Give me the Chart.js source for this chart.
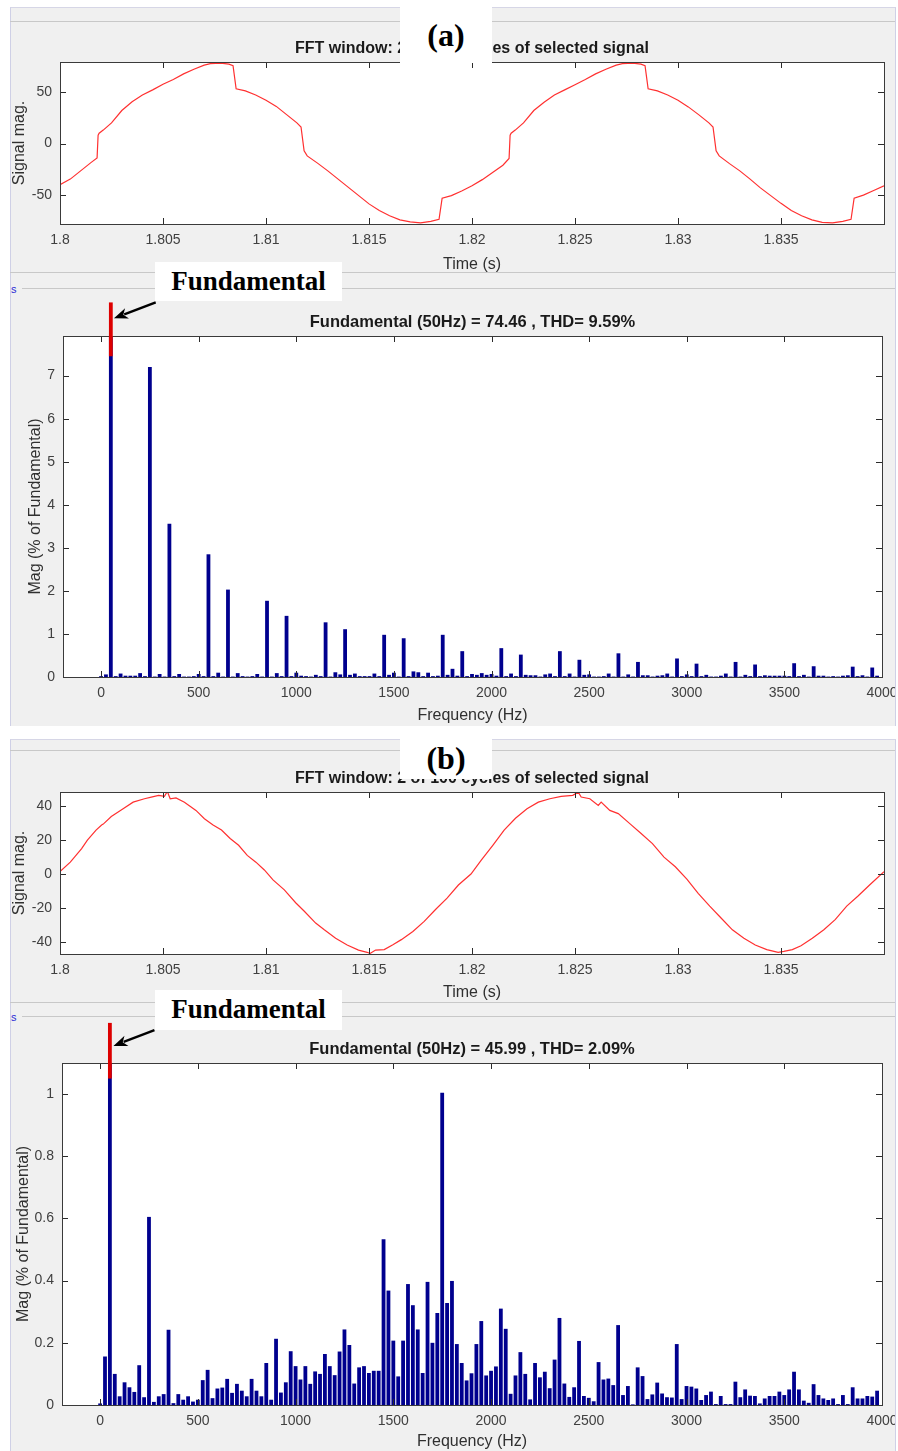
<!DOCTYPE html>
<html>
<head>
<meta charset="utf-8">
<script src="https://cdn.jsdelivr.net/npm/chart.js@4.4.1/dist/chart.umd.min.js"></script>
<style>
  body { margin: 0; background: #fff; }
  #page { position: relative; width: 898px; height: 1451px; overflow: hidden; }
  .panel { position: absolute; left: 10px; width: 884px; background: #f0f0f0;
           border-left: 1px solid #cfd0e6; border-right: 1px solid #cfd0e6; border-top: 1px solid #d6d6e6; }
  .hline { position: absolute; height: 1px; background: #c8c8c8; }
  canvas { position: absolute; }
  .tag { position: absolute; background: #fff; color: #000; text-align: center;
         font-family: 'Liberation Serif', 'Times New Roman', serif; font-weight: bold; z-index: 5; }
  .blue-s { position: absolute; left: 11px; font: 11px 'Liberation Sans', Arial, sans-serif; color: #2b2bd6; }
</style>
</head>
<body>
<div id="page">
  <div class="panel" style="top:7px;height:718px"></div>
  <div class="hline" style="left:10px;width:885px;top:21px"></div>
  <div class="hline" style="left:10px;width:885px;top:272px"></div>
  <div class="hline" style="left:22px;width:873px;top:288px"></div>

  <div class="panel" style="top:739px;height:712px"></div>
  <div class="hline" style="left:10px;width:885px;top:750px"></div>
  <div class="hline" style="left:10px;width:885px;top:1002px"></div>
  <div class="hline" style="left:22px;width:873px;top:1016px"></div>

  <span class="blue-s" style="top:283px">s</span>
  <span class="blue-s" style="top:1011px">s</span>

  <canvas id="timeA" width="885" height="237" style="left:10px;top:37px"></canvas>
  <canvas id="fftA" width="885" height="437" style="left:10px;top:288px"></canvas>
  <canvas id="timeB" width="885" height="242" style="left:10px;top:760px"></canvas>
  <canvas id="fftB" width="885" height="435" style="left:10px;top:1016px"></canvas>

  <div class="tag" style="left:400px;top:7px;width:92px;height:56px;line-height:56px;font-size:32px">(a)</div>
  <div class="tag" style="left:400px;top:738px;width:92px;height:41px;line-height:41px;font-size:32px">(b)</div>
  <div class="tag" style="left:155px;top:262px;width:187px;height:39px;line-height:39px;font-size:27px">Fundamental</div>
  <div class="tag" style="left:155px;top:990px;width:187px;height:40px;line-height:38px;font-size:27px">Fundamental</div>
</div>

<script>
// ---- time signal (a) ----
const timeA = [1.8, 1.8005, 1.801, 1.8015, 1.8018, 1.80185, 1.8019, 1.8021, 1.8025, 1.803, 1.8035, 1.804, 1.8045, 1.805, 1.8055, 1.806, 1.8065, 1.807, 1.8073, 1.8078, 1.8082, 1.8084, 1.80855, 1.809, 1.8095, 1.81, 1.8105, 1.811, 1.8115, 1.8117, 1.81185, 1.812, 1.8125, 1.813, 1.8135, 1.814, 1.8145, 1.815, 1.8155, 1.816, 1.8165, 1.817, 1.8175, 1.818, 1.8184, 1.81855, 1.819, 1.8195, 1.82, 1.8205, 1.821, 1.8215, 1.8218, 1.82185, 1.8219, 1.8221, 1.8225, 1.823, 1.8235, 1.824, 1.8245, 1.825, 1.8255, 1.826, 1.8265, 1.827, 1.8273, 1.8278, 1.8282, 1.8284, 1.82855, 1.829, 1.8295, 1.83, 1.8305, 1.831, 1.8315, 1.8317, 1.83185, 1.832, 1.8325, 1.833, 1.8335, 1.834, 1.8345, 1.835, 1.8355, 1.836, 1.8365, 1.837, 1.8375, 1.838, 1.8384, 1.83855, 1.839, 1.8395, 1.84];
const sigA = [-40, -34.5, -26.5, -18.5, -14, 8, 10, 13, 20, 32, 40.5, 47, 52, 57.5, 62, 67.5, 72, 76, 77.5, 78, 77, 75.5, 53, 51, 47, 42, 36, 28, 20, 16, -7, -12, -19, -26.5, -34.5, -42.5, -50.5, -58.5, -65, -70, -74, -76, -77, -75.5, -73.5, -53, -50.5, -46, -41, -35, -28, -21, -14.5, 8, 10, 13, 20, 32, 40, 47, 52, 57, 62, 67.5, 72, 76, 77.5, 78, 77, 75.5, 53, 51, 47, 42, 35.5, 28, 20, 16, -7, -12, -19.5, -26.5, -34.5, -43, -50.5, -58, -65, -70, -74, -76.5, -77, -75.5, -73.5, -53, -50, -45.5, -41];

// ---- time signal (b) ----
const timeB = [1.8, 1.8005, 1.80105, 1.80133, 1.80175, 1.80202, 1.8021, 1.80249, 1.80299, 1.80355, 1.8041, 1.80443, 1.80479, 1.80507, 1.80521, 1.80535, 1.80563, 1.80604, 1.8066, 1.80701, 1.80743, 1.80784, 1.80826, 1.80867, 1.80909, 1.80951, 1.80992, 1.81034, 1.81089, 1.81144, 1.81186, 1.81241, 1.81283, 1.81338, 1.81394, 1.81449, 1.81491, 1.81505, 1.81532, 1.81574, 1.81616, 1.81657, 1.81713, 1.81768, 1.81823, 1.81879, 1.81934, 1.81995, 1.82045, 1.82101, 1.82156, 1.82211, 1.82267, 1.82322, 1.82378, 1.82433, 1.82489, 1.82516, 1.8253, 1.82572, 1.82613, 1.82627, 1.82669, 1.8271, 1.82766, 1.82821, 1.82876, 1.82932, 1.82987, 1.83043, 1.83098, 1.83154, 1.83209, 1.83264, 1.8332, 1.83375, 1.83431, 1.83486, 1.83514, 1.83555, 1.83597, 1.83652, 1.83708, 1.83763, 1.83819, 1.83874, 1.8393, 1.84];
const sigB = [1.4, 7, 15, 20, 26, 29, 29.5, 34, 38, 42.5, 44.5, 45.5, 46.5, 46, 48.8, 44.5, 45, 42.5, 37.6, 32.7, 29, 26, 21, 17, 11, 7, 2.4, -3.5, -9.4, -17, -22, -29, -33, -38, -42, -45, -46.3, -47, -45, -44.7, -41.8, -38.8, -34, -28, -21, -14.3, -6.5, 0, 8.2, 17, 26, 33, 38.6, 42.5, 44.5, 45.9, 46.5, 48.4, 45.5, 44.5, 40.6, 42.5, 37.6, 35.7, 29.8, 24, 18, 10, 4.3, -3, -11.4, -19, -26, -33, -38, -42, -44.7, -46.3, -45.7, -44.7, -42.4, -38, -33, -27, -19, -13, -6.5, 1.4];

// ---- spectrum bins (Hz) ----
const freqBins = [
  0, 25, 50, 75, 100, 125, 150, 175, 200, 225, 250, 275, 300, 325, 350, 375, 400, 425, 450, 475,
  500, 525, 550, 575, 600, 625, 650, 675, 700, 725, 750, 775, 800, 825, 850, 875, 900, 925, 950, 975,
  1000, 1025, 1050, 1075, 1100, 1125, 1150, 1175, 1200, 1225, 1250, 1275, 1300, 1325, 1350, 1375, 1400, 1425, 1450, 1475,
  1500, 1525, 1550, 1575, 1600, 1625, 1650, 1675, 1700, 1725, 1750, 1775, 1800, 1825, 1850, 1875, 1900, 1925, 1950, 1975,
  2000, 2025, 2050, 2075, 2100, 2125, 2150, 2175, 2200, 2225, 2250, 2275, 2300, 2325, 2350, 2375, 2400, 2425, 2450, 2475,
  2500, 2525, 2550, 2575, 2600, 2625, 2650, 2675, 2700, 2725, 2750, 2775, 2800, 2825, 2850, 2875, 2900, 2925, 2950, 2975,
  3000, 3025, 3050, 3075, 3100, 3125, 3150, 3175, 3200, 3225, 3250, 3275, 3300, 3325, 3350, 3375, 3400, 3425, 3450, 3475,
  3500, 3525, 3550, 3575, 3600, 3625, 3650, 3675, 3700, 3725, 3750, 3775, 3800, 3825, 3850, 3875, 3900, 3925, 3950, 3975
];

// magnitude, % of fundamental (fundamental bin = 100, clipped by the axis)
const magA = [
  0.02, 0.06, 100, 0.02, 0.08, 0.03, 0.03, 0.03, 0.09, 0.02, 7.2, 0.01, 0.07, 0.01, 3.56, 0.02, 0.07, 0.01, 0.01, 0.02,
  0.07, 0.02, 2.85, 0.02, 0.10, 0.01, 2.03, 0.01, 0.09, 0.02, 0.01, 0.02, 0.07, 0.01, 1.77, 0.01, 0.09, 0.02, 1.42, 0.02,
  0.10, 0.03, 0.02, 0.01, 0.05, 0.02, 1.27, 0.01, 0.11, 0.06, 1.11, 0.05, 0.08, 0.02, 0.02, 0.02, 0.08, 0.02, 0.98, 0.05,
  0.10, 0.01, 0.90, 0.02, 0.13, 0.11, 0.02, 0.10, 0.02, 0.03, 0.98, 0.05, 0.19, 0.03, 0.60, 0.02, 0.07, 0.05, 0.09, 0.05,
  0.07, 0.03, 0.67, 0.02, 0.08, 0.02, 0.52, 0.05, 0.04, 0.04, 0.01, 0.06, 0.08, 0.02, 0.60, 0.02, 0.08, 0.01, 0.40, 0.05,
  0.06, 0.01, 0.01, 0.02, 0.08, 0.01, 0.55, 0.01, 0.06, 0.01, 0.35, 0.04, 0.04, 0.01, 0.03, 0.04, 0.08, 0.01, 0.43, 0.02,
  0.06, 0.02, 0.31, 0.02, 0.05, 0.01, 0.01, 0.03, 0.08, 0.01, 0.35, 0.01, 0.05, 0.02, 0.29, 0.02, 0.04, 0.03, 0.03, 0.03,
  0.03, 0.02, 0.32, 0.02, 0.05, 0.01, 0.25, 0.03, 0.03, 0.01, 0.02, 0.01, 0.03, 0.04, 0.24, 0.02, 0.04, 0.01, 0.22, 0.03
];
const magB = [
  0.005, 0.156, 100, 0.10, 0.028, 0.073, 0.057, 0.042, 0.128, 0.025, 0.605, 0.01, 0.028, 0.035, 0.242, 0.006, 0.035, 0.017, 0.028, 0.011,
  0.017, 0.08, 0.113, 0.022, 0.053, 0.056, 0.084, 0.039, 0.068, 0.046, 0.028, 0.084, 0.046, 0.028, 0.135, 0.017, 0.213, 0.04, 0.073, 0.173,
  0.125, 0.082, 0.125, 0.068, 0.108, 0.10, 0.164, 0.125, 0.096, 0.172, 0.243, 0.193, 0.069, 0.121, 0.125, 0.103, 0.11, 0.11, 0.533, 0.368,
  0.207, 0.092, 0.207, 0.389, 0.321, 0.243, 0.103, 0.396, 0.20, 0.296, 1.004, 0.328, 0.399, 0.196, 0.135, 0.079, 0.102, 0.196, 0.27, 0.095,
  0.11, 0.124, 0.31, 0.245, 0.036, 0.095, 0.17, 0.10, 0.018, 0.135, 0.089, 0.107, 0.054, 0.146, 0.28, 0.069, 0.026, 0.057, 0.206, 0.029,
  0.023, 0.012, 0.138, 0.082, 0.085, 0.064, 0.257, 0.032, 0.061, 0.002, 0.121, 0.093, 0.019, 0.034, 0.072, 0.037, 0.025, 0.024, 0.196, 0.019,
  0.061, 0.059, 0.053, 0.016, 0.032, 0.043, 0.003, 0.029, 0.003, 0.003, 0.075, 0.025, 0.05, 0.03, 0.029, 0.005, 0.021, 0.029, 0.029, 0.043,
  0.032, 0.05, 0.107, 0.05, 0.014, 0.007, 0.067, 0.032, 0.021, 0.016, 0.021, 0.003, 0.032, 0.003, 0.057, 0.021, 0.021, 0.029, 0.027, 0.046
];

// ---- tick values ----
const timeTicks = [1.8, 1.805, 1.81, 1.815, 1.82, 1.825, 1.83, 1.835];
const sigTicksA = [-50, 0, 50];
const sigTicksB = [-40, -20, 0, 20, 40];
const freqTicks = [0, 500, 1000, 1500, 2000, 2500, 3000, 3500, 4000];
const magTicksA = [0, 1, 2, 3, 4, 5, 6, 7];
const magTicksB = [0, 0.2, 0.4, 0.6, 0.8, 1];

const titleTimeA = 'FFT window: 2 of 100 cycles of selected signal';
const titleTimeB = 'FFT window: 2 of 100 cycles of selected signal';
const titleFftA = 'Fundamental (50Hz) = 74.46 , THD= 9.59%';
const titleFftB = 'Fundamental (50Hz) = 45.99 , THD= 2.09%';

const SANS = "'Liberation Sans', Arial, Helvetica, sans-serif";
Chart.defaults.font.family = SANS;
Chart.defaults.animation = false;

// white axes box, inward MATLAB ticks and the title above the box
const boxPlugin = {
  id: 'boxPlugin',
  beforeDraw(chart) {
    const a = chart.chartArea, ctx = chart.ctx;
    ctx.save();
    ctx.fillStyle = '#fff';
    ctx.fillRect(a.left, a.top, a.right - a.left, a.bottom - a.top);
    ctx.restore();
  },
  afterDatasetsDraw(chart, args, o) {
    const { ctx, chartArea: a, scales: { x, y } } = chart;
    const L = 6;
    ctx.save();
    ctx.strokeStyle = '#2b2b2b';
    ctx.lineWidth = 1;
    ctx.beginPath();
    x.ticks.forEach(t => {
      const px = Math.round(x.getPixelForValue(t.value)) + 0.5;
      ctx.moveTo(px, a.bottom); ctx.lineTo(px, a.bottom - L);
      ctx.moveTo(px, a.top); ctx.lineTo(px, a.top + L);
    });
    y.ticks.forEach(t => {
      const py = Math.round(y.getPixelForValue(t.value)) + 0.5;
      ctx.moveTo(a.left, py); ctx.lineTo(a.left + L, py);
      ctx.moveTo(a.right, py); ctx.lineTo(a.right - L, py);
    });
    ctx.stroke();
    ctx.strokeStyle = '#3a3a3a';
    ctx.strokeRect(Math.round(a.left) + 0.5, Math.round(a.top) + 0.5,
                   Math.round(a.right - a.left), Math.round(a.bottom - a.top));
    ctx.fillStyle = '#1a1a1a';
    ctx.font = 'bold ' + o.size + 'px ' + SANS;
    ctx.textAlign = 'center';
    ctx.textBaseline = 'middle';
    ctx.fillText(o.text, (a.left + a.right) / 2, a.top - o.gap);
    ctx.restore();
  }
};

// red overlay on the fundamental bar and the pointing arrow
const fundMark = {
  id: 'fundMark',
  afterDraw(chart, args, o) {
    const { ctx, scales: { x, y } } = chart;
    const bar = chart.getDatasetMeta(0).data[2];
    const px = x.getPixelForValue(o.freq);
    const y0 = y.getPixelForValue(o.redFrom), y1 = y.getPixelForValue(o.redTo);
    ctx.save();
    ctx.fillStyle = '#dd0000';
    ctx.fillRect(px - bar.width / 2, y1, bar.width, y0 - y1);

    const ax0 = x.getPixelForValue(o.arrowFrom[0]), ay0 = y.getPixelForValue(o.arrowFrom[1]);
    const ax1 = x.getPixelForValue(o.arrowTo[0]), ay1 = y.getPixelForValue(o.arrowTo[1]);
    const ang = Math.atan2(ay1 - ay0, ax1 - ax0);
    const head = 14, hw = 5.5;
    const bx = ax1 - head * Math.cos(ang), by = ay1 - head * Math.sin(ang);
    ctx.strokeStyle = '#000';
    ctx.fillStyle = '#000';
    ctx.lineWidth = 2.4;
    ctx.beginPath(); ctx.moveTo(ax0, ay0); ctx.lineTo(bx + 3 * Math.cos(ang), by + 3 * Math.sin(ang)); ctx.stroke();
    ctx.beginPath();
    ctx.moveTo(ax1, ay1);
    ctx.lineTo(bx + hw * Math.sin(ang), by - hw * Math.cos(ang));
    ctx.lineTo(bx + 4 * Math.cos(ang), by + 4 * Math.sin(ang));
    ctx.lineTo(bx - hw * Math.sin(ang), by + hw * Math.cos(ang));
    ctx.closePath();
    ctx.fill();
    ctx.restore();
  }
};

function axes(c) {
  return {
    x: {
      type: 'linear', min: c.xmin, max: c.xmax, bounds: 'data', offset: false,
      grid: { display: false, drawTicks: false }, border: { display: false },
      afterBuildTicks: s => { s.ticks = c.xticks.map(v => ({ value: v })); },
      afterFit: s => { s.height = c.xh; s.paddingLeft = 0; s.paddingRight = 0; },
      ticks: { autoSkip: false, maxRotation: 0, padding: c.xpad, color: '#404040',
               font: { size: 14 }, callback: v => String(v) },
      title: { display: true, text: c.xtitle, color: '#303030', font: { size: 16 },
               padding: { top: 0, bottom: 0 } }
    },
    y: {
      type: 'linear', min: c.ymin, max: c.ymax, bounds: 'data',
      grid: { display: false, drawTicks: false }, border: { display: false },
      afterBuildTicks: s => { s.ticks = c.yticks.map(v => ({ value: v })); },
      afterFit: s => { s.width = c.yw; s.paddingTop = 0; s.paddingBottom = 0; },
      ticks: { padding: 8, color: '#404040', font: { size: 14 }, callback: v => String(v) },
      title: { display: true, text: c.ytitle, color: '#303030', font: { size: 16 },
               padding: { top: c.ytpad, bottom: 0 } }
    }
  };
}

function timeChart(id, t, s, c) {
  new Chart(document.getElementById(id), {
    type: 'line',
    data: { datasets: [{ data: t.map((v, i) => ({ x: v, y: s[i] })), borderColor: '#ff3030',
                         borderWidth: 1.2, pointRadius: 0, tension: 0 }] },
    options: {
      responsive: false, events: [],
      layout: { padding: { top: c.padTop, right: 11, bottom: 0, left: 0 } },
      plugins: { legend: { display: false }, tooltip: { enabled: false },
                 boxPlugin: { text: c.title, size: 16, gap: 13.5 } },
      scales: axes(Object.assign({ xmin: 1.8, xmax: 1.84, xticks: timeTicks, xtitle: 'Time (s)',
                                   yw: 50, ytitle: 'Signal mag.', ytpad: 0, xpad: 8 }, c))
    },
    plugins: [boxPlugin]
  });
}

function fftChart(id, mags, c) {
  new Chart(document.getElementById(id), {
    type: 'bar',
    data: { datasets: [{ data: freqBins.map((f, i) => ({ x: f, y: mags[i] })),
                         backgroundColor: '#00008e', borderWidth: 0,
                         barPercentage: 0.78, categoryPercentage: 1 }] },
    options: {
      responsive: false, events: [],
      layout: { padding: { top: c.padTop, right: 13, bottom: 0, left: 0 } },
      plugins: { legend: { display: false }, tooltip: { enabled: false },
                 boxPlugin: { text: c.title, size: 16.5, gap: 14 },
                 fundMark: c.mark },
      scales: axes(Object.assign({ xmin: -195, xmax: 4000, xticks: freqTicks, xtitle: 'Frequency (Hz)',
                                   ymin: 0, ytitle: 'Mag (% of Fundamental)', xpad: 8 }, c))
    },
    plugins: [boxPlugin, fundMark]
  });
}

timeChart('timeA', timeA, sigA, { title: titleTimeA, padTop: 25, xh: 50, ymin: -78, ymax: 79, yticks: sigTicksA });
timeChart('timeB', timeB, sigB, { title: titleTimeB, padTop: 32, xh: 48, ymin: -47.3, ymax: 48.5, yticks: sigTicksB });

fftChart('fftA', magA, {
  title: titleFftA, padTop: 48, xh: 48, yw: 53, ytpad: 16, ymax: 7.92, yticks: magTicksA,
  mark: { freq: 50, redFrom: 7.45, redTo: 8.7, arrowFrom: [280, 8.7], arrowTo: [66, 8.33] }
});
fftChart('fftB', magB, {
  title: titleFftB, padTop: 47, xh: 46, yw: 52, ytpad: 4, ymax: 1.1, yticks: magTicksB,
  mark: { freq: 50, redFrom: 1.05, redTo: 1.229, arrowFrom: [278, 1.206], arrowTo: [68, 1.155] }
});
</script>
</body>
</html>
